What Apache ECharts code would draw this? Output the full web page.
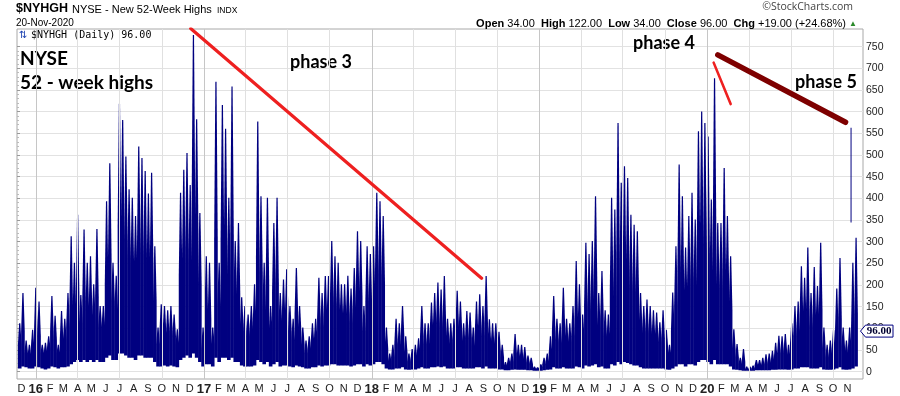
<!DOCTYPE html>
<html><head><meta charset="utf-8">
<script src="https://cdn.jsdelivr.net/npm/echarts@6/dist/echarts.min.js"></script>
<style>html,body{margin:0;padding:0;background:#fff}#c{width:900px;height:396px}</style>
</head><body><div id="c"></div>
<script>
// ---- data (weekly envelope of the daily NYSE new 52-week highs bars) ----
const firstWeek = '2015-11-23';
const weekHigh = [110,180,70,60,95,192,160,60,65,80,
173,127,60,138,120,180,311,250,361,175,
327,250,265,200,328,150,150,392,480,250,
220,618,580,496,420,400,358,519,492,462,
410,458,288,100,154,150,140,150,130,96,
412,465,504,430,777,582,365,100,265,250,
100,669,250,615,560,400,658,300,342,170,
150,130,150,200,577,404,250,400,150,342,
400,180,211,235,150,120,238,150,100,70,
80,110,120,215,180,219,219,300,265,250,
200,200,220,190,238,323,300,150,288,270,
288,412,392,358,100,40,60,120,110,150,
80,40,50,60,75,150,110,110,158,180,
204,188,219,120,110,120,185,160,110,138,
135,100,160,177,150,219,119,110,110,90,
60,20,30,40,85,60,60,55,35,30,
10,8,15,30,40,80,173,120,110,192,
120,110,150,254,200,130,296,270,300,404,
180,231,140,130,400,373,573,435,473,446,
361,338,323,180,150,165,150,140,135,112,
140,95,60,181,288,477,404,285,358,412,
350,554,600,573,542,396,677,342,342,469,
358,265,96,62,30,50,10,10,12,25,
25,30,38,40,46,65,81,80,85,60,
110,150,160,242,215,285,180,240,196,296,
100,60,70,95,190,261,100,70,100,250,
308];
const weekBody = [60,90,40,35,50,90,80,40,40,50,
90,70,40,70,70,100,150,130,170,110,
160,140,140,120,170,100,100,200,260,160,
140,330,320,300,260,240,220,280,270,260,
230,250,160,60,90,90,80,90,80,60,
220,250,280,250,380,320,200,50,130,120,
60,300,150,300,280,220,300,170,180,100,
90,80,90,110,260,220,140,200,90,180,
200,110,120,130,90,70,130,90,60,40,
50,65,70,120,100,130,130,170,150,140,
120,120,130,110,140,180,170,90,160,150,
160,230,220,200,50,20,30,60,55,80,
40,20,25,30,40,80,60,60,90,100,
110,100,110,70,60,70,100,90,60,75,
75,55,85,95,80,110,65,60,60,45,
30,10,15,20,40,30,30,25,18,15,
4,4,8,15,20,40,90,70,65,100,
70,65,80,120,100,75,150,140,150,200,
100,120,80,75,190,170,260,220,240,230,
190,180,170,100,85,90,85,80,75,65,
75,55,35,90,150,230,200,160,190,210,
190,280,300,290,270,210,320,190,190,230,
190,140,50,30,15,20,3,3,5,12,
12,12,15,18,20,30,40,40,45,30,
60,80,90,130,120,140,100,120,110,140,
50,30,35,50,90,120,55,35,50,100,
130];
const weekLow = [5,10,8,5,5,10,8,5,3,5,
10,8,5,8,8,10,15,20,25,20,
25,20,25,20,25,20,20,30,35,25,
25,40,40,35,30,30,25,35,35,30,
30,30,20,10,10,12,10,12,10,8,
25,30,35,30,40,30,20,10,15,15,
10,30,20,30,30,25,30,20,20,12,
10,10,10,12,25,20,15,20,10,15,
20,10,12,12,10,8,12,10,8,5,
5,8,8,12,10,12,12,15,15,12,
12,12,12,10,12,15,15,10,15,12,
15,20,20,15,5,3,3,5,5,8,
3,2,3,3,5,8,5,5,8,8,
10,8,10,5,5,5,8,8,5,5,
5,5,8,8,5,10,5,5,5,3,
3,1,1,2,3,2,2,2,1,1,
0,0,0,1,2,3,8,5,5,8,
5,5,5,10,8,5,12,10,12,15,
8,10,5,5,15,12,20,15,20,18,
15,12,12,8,5,5,5,5,5,5,
5,3,2,5,10,15,15,10,15,15,
12,20,25,25,20,15,25,15,15,15,
15,10,3,2,1,0,0,0,0,1,
1,1,1,1,2,2,3,3,3,2,
3,5,5,8,8,8,5,5,5,8,
3,2,2,3,5,8,3,2,3,5,
10];
const glitchBar = ['2020-11-09', 343, 562];   // [date, low, high]
const lastClose = 96;
const trendPhase3 = [['2016-12-03', 792], ['2018-08-28', 214]];
const trendPhase4 = [['2020-01-15', 713], ['2020-02-21', 617]];
const trendPhase5 = [['2020-01-24', 731], ['2020-10-28', 575]];
const monthLetters = ['J','F','M','A','M','J','J','A','S','O','N','D'];
const axisStart = '2015-11-21', axisEnd = '2020-12-05';
const firstMonth = '2015-12-01', lastMonth = '2020-11-01';

// ---- helpers ----
function ts(s){const p=s.split('-').map(Number);return new Date(p[0],p[1]-1,p[2]).getTime();}
const DAY = 86400000;
const fw = firstWeek.split('-').map(Number);
const weekDates = weekHigh.map((_,i)=>new Date(fw[0],fw[1]-1,fw[2]+7*i).getTime());
const weekData = weekHigh.map((h,i)=>[weekDates[i], weekLow[i], weekBody[i], h]);

const monthStarts = [];
{ const a=firstMonth.split('-').map(Number), b=lastMonth.split('-').map(Number);
  let y=a[0], m=a[1]-1;
  while (y<b[0] || (y===b[0] && m<=b[1]-1)) { monthStarts.push(new Date(y,m,1).getTime()); m++; if(m>11){m=0;y++;} } }
const quarterStarts = monthStarts.filter(t=>new Date(t).getMonth()%3===0);

const NAVY = '#000080';
const chart = echarts.init(document.getElementById('c'), null, {renderer:'canvas'});

function renderWeek(params, api){
  const t = api.value(0);
  const pl = api.coord([t, api.value(1)]);
  const pb = api.coord([t, api.value(2)]);
  const ph = api.coord([t, api.value(3)]);
  const w = api.size([7*DAY, 0])[0] + 0.4;
  const x0 = pl[0], x1 = pl[0] + w, xc = pl[0] + w/2;
  return {type:'polygon', shape:{points:[[x0,pl[1]],[x1,pl[1]],[x1,pb[1]],[xc+0.6,ph[1]],[xc-0.6,ph[1]],[x0,pb[1]]]},
          style:{fill:NAVY}};
}
function renderGlitch(params, api){
  const t = api.value(0);
  const pl = api.coord([t, api.value(1)]);
  const ph = api.coord([t, api.value(2)]);
  return {type:'rect', shape:{x:pl[0]-0.5, y:ph[1], width:1, height:pl[1]-ph[1]}, style:{fill:NAVY}};
}

const F = 'Liberation Sans, Arial, sans-serif';
const option = {
  animation:false,
  backgroundColor:'#fff',
  grid:[
    {left:17, right:37, top:29, bottom:16, show:true, borderColor:'#a8a8a8', borderWidth:1, backgroundColor:'transparent'},
    {left:17, right:37, top:46.7, bottom:24.3}
  ],
  xAxis:[
    {type:'value', gridIndex:0, min:ts(axisStart), max:ts(axisEnd), scale:true,
     axisLine:{show:false}, axisTick:{show:false}, splitLine:{show:false},
     axisLabel:{customValues:monthStarts, margin:4, color:'#222', fontSize:11, fontFamily:F, hideOverlap:false,
       formatter:function(v){const d=new Date(v);const m=d.getMonth();
         return m===0?'{y|'+String(d.getFullYear()).slice(2)+'}':monthLetters[m];},
       rich:{y:{fontSize:13, fontWeight:'bold', fontFamily:F, color:'#222'}}}},
    {type:'value', gridIndex:1, show:false, min:0, max:1}
  ],
  yAxis:[
    {type:'value', gridIndex:0, min:-19.15, max:790.8, show:false, splitLine:{show:false}},
    {type:'value', gridIndex:1, min:0, max:750, interval:50, position:'right',
     axisLine:{show:false}, axisTick:{show:true, length:3, lineStyle:{color:'#999'}},
     minorTick:{show:true, splitNumber:5, length:2, lineStyle:{color:'#bbb'}},
     axisLabel:{margin:3, color:'#222', fontSize:10.5, fontFamily:F},
     splitLine:{show:true, lineStyle:{color:'#e2e2e2', width:1}}}
  ],
  series:[
    {type:'line', xAxisIndex:0, yAxisIndex:0, data:[[ts(axisStart), -100]], showSymbol:false, silent:true, z:1,
     lineStyle:{opacity:0},
     markLine:{silent:true, symbol:['none','none'], label:{show:false}, animation:false,
       data:quarterStarts.map(t=>({xAxis:t, lineStyle:{color:new Date(t).getMonth()===0?'#c6c6c6':'#e0e0e0', width:1, type:'solid'}}))}},
    {type:'custom', xAxisIndex:0, yAxisIndex:0, data:weekData, renderItem:renderWeek, encode:{x:0,y:[1,2,3]}, clip:true, z:3, silent:true},
    {type:'custom', xAxisIndex:0, yAxisIndex:0, data:[[ts(glitchBar[0]), glitchBar[1], glitchBar[2]]], renderItem:renderGlitch, encode:{x:0,y:[1,2]}, z:3, silent:true},
    {type:'line', xAxisIndex:0, yAxisIndex:0, data:trendPhase3.map(p=>[ts(p[0]),p[1]]), showSymbol:false, z:5, silent:true,
     lineStyle:{color:'#ee2020', width:3.2, cap:'round'}},
    {type:'line', xAxisIndex:0, yAxisIndex:0, data:trendPhase4.map(p=>[ts(p[0]),p[1]]), showSymbol:false, z:5, silent:true,
     lineStyle:{color:'#ee2020', width:2.6, cap:'round'}},
    {type:'line', xAxisIndex:0, yAxisIndex:0, data:trendPhase5.map(p=>[ts(p[0]),p[1]]), showSymbol:false, z:5, silent:true,
     lineStyle:{color:'#7e0000', width:5.5, cap:'round'}}
  ]
};
chart.setOption(option);

const yTag = chart.convertToPixel({yAxisIndex:1}, lastClose);
const AF = 'Lato, "Open Sans", sans-serif';
chart.setOption({graphic:[
  {type:'text', left:16, top:2, style:{text:'$NYHGH', font:'bold 12.5px '+F, fill:'#000'}},
  {type:'text', left:72, top:4, style:{text:'NYSE - New 52-Week Highs', font:'11px '+F, fill:'#000'}},
  {type:'text', left:217, top:6, style:{text:'INDX', font:'8.5px '+F, fill:'#000'}},
  {type:'text', left:16, top:18, style:{text:'20-Nov-2020', font:'10px '+F, fill:'#000'}},
  {type:'text', right:47, top:2, style:{text:'\u00A9StockCharts.com', font:'10.5px "Open Sans", sans-serif', fill:'#444'}},
  {type:'text', right:43, top:18, style:{text:'{b|Open} 34.00  {b|High} 122.00  {b|Low} 34.00  {b|Close} 96.00  {b|Chg} +19.00 (+24.68%) {g|\u25B2}',
     font:'11px '+F, fill:'#000', rich:{b:{fontWeight:'bold', fontSize:11, fontFamily:F, fill:'#000'}, g:{fontSize:8, fill:'#2a8a2a'}}}},
  {type:'text', left:19, top:30, style:{text:'\u21C5', font:'10px "DejaVu Sans"', fill:'#1a3fb0'}},
  {type:'text', left:31, top:30, style:{text:'$NYHGH (Daily) 96.00', font:'10px "DejaVu Sans Mono", monospace', fill:'#000'}},
  {type:'text', left:20, top:49, style:{text:'NYSE', font:'bold 19px '+AF, fill:'#000'}},
  {type:'text', left:20, top:73, style:{text:'52 - week highs', font:'bold 19px '+AF, fill:'#000'}},
  {type:'text', left:290, top:53, style:{text:'phase 3', font:'bold 18px '+AF, fill:'#000'}},
  {type:'text', left:633, top:34, style:{text:'phase 4', font:'bold 18px '+AF, fill:'#000'}},
  {type:'text', left:795, top:73, style:{text:'phase 5', font:'bold 18px '+AF, fill:'#000'}},
  {type:'polygon', shape:{points:[[860.5,yTag+1],[865.5,yTag-5],[893,yTag-5],[893,yTag+7],[865.5,yTag+7]]},
   style:{fill:'#fff', stroke:NAVY, lineWidth:1}, z:10},
  {type:'text', x:879, y:yTag+1.5, style:{text:lastClose.toFixed(2), font:'bold 11px "Liberation Serif", serif', fill:'#000030', align:'center', verticalAlign:'middle'}, z:11}
]});
</script></body></html>
